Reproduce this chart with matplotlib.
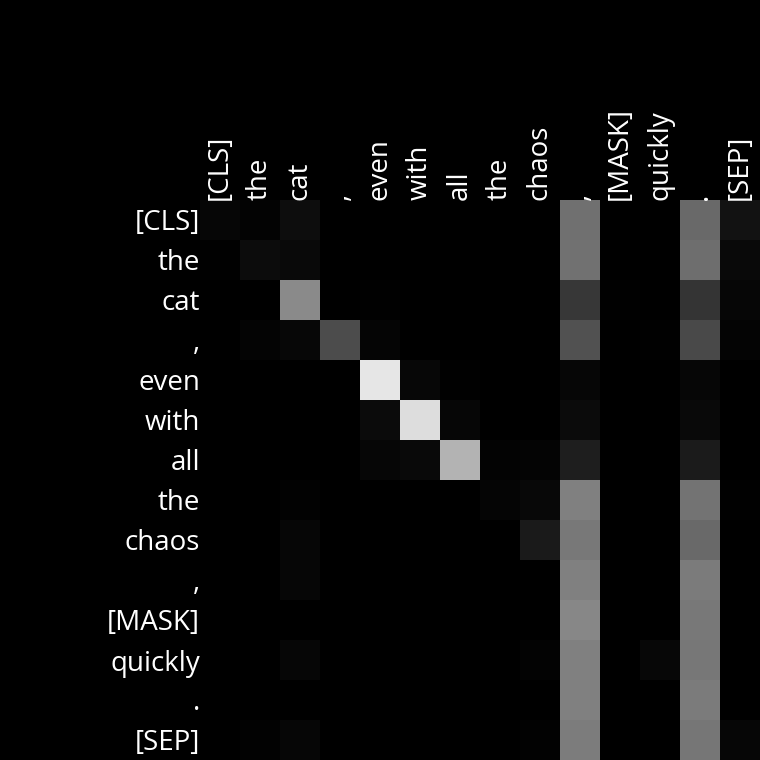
"""Attention map for one head, drawn as a grayscale heatmap."""

import numpy as np
import matplotlib
matplotlib.use("Agg")
import matplotlib.pyplot as plt

tokens = ["[CLS]", "the", "cat", ",", "even", "with", "all", "the", "chaos",
          ",", "[MASK]", "quickly", ".", "[SEP]"]

# attention weights, rows = query token, cols = key token
attention = np.array([
    [0.024, 0.012, 0.051, 0, 0, 0, 0, 0, 0, 0.439, 0, 0, 0.416, 0.071],
    [0.004, 0.047, 0.039, 0, 0, 0, 0, 0, 0, 0.447, 0, 0, 0.431, 0.039],
    [0, 0, 0.541, 0, 0.004, 0, 0, 0, 0, 0.216, 0.004, 0, 0.208, 0.027],
    [0, 0.016, 0.031, 0.298, 0.020, 0, 0, 0, 0, 0.322, 0, 0.004, 0.290, 0.016],
    [0, 0, 0, 0, 0.902, 0.031, 0.004, 0, 0, 0.024, 0, 0, 0.024, 0],
    [0, 0, 0, 0, 0.043, 0.867, 0.024, 0, 0, 0.043, 0, 0, 0.039, 0],
    [0, 0, 0, 0, 0.027, 0.039, 0.702, 0.012, 0.016, 0.118, 0, 0, 0.106, 0],
    [0, 0, 0.008, 0, 0, 0, 0, 0.020, 0.035, 0.502, 0, 0, 0.451, 0.004],
    [0, 0, 0.027, 0, 0, 0, 0, 0, 0.102, 0.471, 0, 0, 0.416, 0],
    [0, 0, 0.024, 0, 0, 0, 0, 0, 0, 0.502, 0, 0, 0.482, 0],
    [0, 0, 0, 0, 0, 0, 0, 0, 0, 0.529, 0, 0, 0.471, 0],
    [0, 0, 0.024, 0, 0, 0, 0, 0, 0.012, 0.502, 0, 0.031, 0.467, 0],
    [0, 0, 0, 0, 0, 0, 0, 0, 0, 0.502, 0, 0, 0.482, 0],
    [0, 0.008, 0.027, 0, 0, 0, 0, 0, 0.008, 0.486, 0, 0, 0.463, 0.024],
])


def main() -> None:
    plt.rcParams["font.family"] = ["Open Sans", "DejaVu Sans"]
    fig = plt.figure(figsize=(7.6, 7.6), dpi=100, facecolor="black")
    ax = fig.add_axes([200 / 760, 0, 560 / 760, 560 / 760])
    ax.set_facecolor("black")
    ax.imshow(attention, cmap="gray", vmin=0, vmax=1, aspect="auto",
              interpolation="nearest")

    n = len(tokens)
    ax.set_xticks(range(n))
    ax.set_yticks(range(n))
    ax.set_xticklabels(tokens, rotation=90, color="white", fontsize=20)
    ax.set_yticklabels(tokens, color="white", fontsize=20)
    ax.xaxis.tick_top()
    ax.tick_params(length=0, pad=0)
    for spine in ax.spines.values():
        spine.set_visible(False)

    fig.savefig("out.png", dpi=100, facecolor="black")
    plt.close(fig)


if __name__ == "__main__":
    main()
